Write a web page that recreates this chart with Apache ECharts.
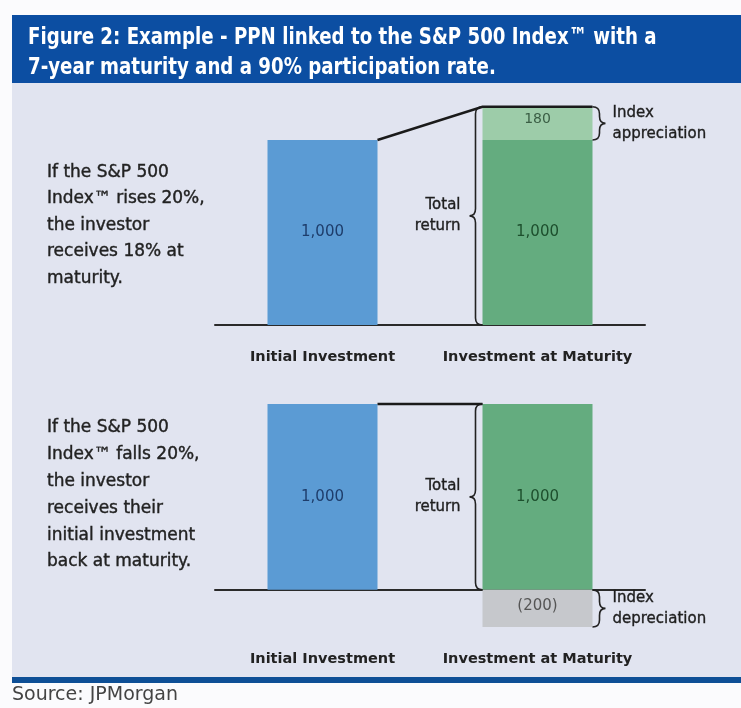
<!DOCTYPE html>
<html><head><meta charset="utf-8">
<script src="https://cdn.jsdelivr.net/npm/echarts@6/dist/echarts.min.js"></script>
<style>html,body{margin:0;padding:0;background:#fff}#c{width:741px;height:708px}</style>
</head><body><div id="c"></div><script>
// ---- data ----
const categories = ['Initial Investment', 'Investment at Maturity'];
const principalUp = [1000, 1000];
const appreciationUp = [null, 180];
const principalDown = [1000, 1000];
const depreciationDown = [null, -200];
const titleLines = ['Figure 2: Example - PPN linked to the S&P 500 Index\u2122 with a', '7-year maturity and a 90% participation rate.'];
const upText = ['If the S&P 500', 'Index\u2122 rises 20%,', 'the investor', 'receives 18% at', 'maturity.'];
const downText = ['If the S&P 500', 'Index\u2122 falls 20%,', 'the investor', 'receives their', 'initial investment', 'back at maturity.'];
const braceTexts = { total: 'Total\nreturn', up: 'Index\nappreciation', down: 'Index\ndepreciation' };
const sourceText = 'Source: JPMorgan';

// ---- styles ----
const BLUE = '#5b9bd4', GREEN = '#64ac7f', LIGHTGREEN = '#9dcca9', GREY = '#c6c8cc';
const BAR_W = 110;
const FONT = 'DejaVu Sans';
const fmt = v => v < 0 ? '(' + Math.abs(v).toLocaleString('en-US') + ')' : v.toLocaleString('en-US');

function baseData(vals) {
  return vals.map((v, i) => ({
    value: v,
    itemStyle: { color: i === 0 ? BLUE : GREEN },
    label: { color: i === 0 ? '#1e3d6b' : '#1d4f2d' }
  }));
}

function bracePath(edge, y0, y1, dir) {
  const w = 7, t = 6;
  const r = Math.min(7, (y1 - y0) / 4);
  const xv = edge + dir * w, xt = xv + dir * t, ym = (y0 + y1) / 2;
  return 'M' + edge + ' ' + y0 + ' Q' + xv + ' ' + y0 + ' ' + xv + ' ' + (y0 + r) +
    ' L' + xv + ' ' + (ym - r) + ' Q' + xv + ' ' + ym + ' ' + xt + ' ' + ym +
    ' Q' + xv + ' ' + ym + ' ' + xv + ' ' + (ym + r) +
    ' L' + xv + ' ' + (y1 - r) + ' Q' + xv + ' ' + y1 + ' ' + edge + ' ' + y1;
}

function braceSeries(gi, cat, v0, v1, dir, text) {
  return {
    type: 'custom', xAxisIndex: gi, yAxisIndex: gi, clip: false, z: 5,
    encode: { x: 0, y: [1, 2] },
    data: [[cat, v0, v1]],
    renderItem: function (params, api) {
      const a = api.coord([api.value(0), api.value(1)]);
      const b = api.coord([api.value(0), api.value(2)]);
      const edge = a[0] + dir * BAR_W / 2;
      const y0 = Math.min(a[1], b[1]), y1 = Math.max(a[1], b[1]);
      const ym = (y0 + y1) / 2;
      return {
        type: 'group',
        children: [
          { type: 'path', shape: { pathData: bracePath(edge, y0, y1, dir) },
            style: { stroke: '#222', lineWidth: 1.6, fill: null } },
          { type: 'text', style: {
              text: text, x: dir < 0 ? edge - 22 : edge + 20, y: ym,
              align: dir < 0 ? 'right' : 'left', verticalAlign: 'middle',
              font: '15px "' + FONT + '"', fill: '#1e1e1e', stroke: '#1e1e1e', lineWidth: 0.35, lineHeight: 21 } }
        ]
      };
    }
  };
}

function connectorSeries(gi, v0, v1, extend) {
  return {
    type: 'custom', xAxisIndex: gi, yAxisIndex: gi, clip: false, z: 6,
    encode: { x: [0, 2], y: [1, 3] },
    data: [[0, v0, 1, v1]],
    renderItem: function (params, api) {
      const p0 = api.coord([api.value(0), api.value(1)]);
      const p1 = api.coord([api.value(2), api.value(3)]);
      const h = BAR_W / 2;
      const pts = [[p0[0] + h, p0[1]], [p1[0] - h, p1[1]]];
      if (extend) pts.push([p1[0] + h, p1[1]]);
      return { type: 'polyline', shape: { points: pts }, style: { stroke: '#1a1a1a', lineWidth: 2.5, fill: null } };
    }
  };
}

const labelBase = { show: true, position: 'inside', fontFamily: FONT, fontSize: 15, formatter: p => fmt(p.value) };

function xAxis(gi) {
  return {
    type: 'category', gridIndex: gi, data: categories,
    axisLine: { onZero: true, lineStyle: { color: '#2a2a2a', width: 2 } },
    axisTick: { show: false },
    axisLabel: { interval: 0, margin: 24.5, fontFamily: FONT, fontSize: 14.5, fontWeight: 'bold', color: '#222' }
  };
}
function yAxis(gi, min, max) {
  return { type: 'value', gridIndex: gi, min: min, max: max, show: false, splitLine: { show: false } };
}

const chart = echarts.init(document.getElementById('c'), null, { renderer: 'canvas' });
const upSum = principalUp[1] + appreciationUp[1];
const paraStyle = { fill: '#222', stroke: '#222', lineWidth: 0.4, font: '17px "' + FONT + '"', verticalAlign: 'top' };
chart.setOption({
  animation: false,
  backgroundColor: '#fbfbfd',
  graphic: [
    { type: 'rect', shape: { x: 12, y: 83, width: 729, height: 594 }, style: { fill: '#e1e4f0' }, z: -10 },
    { type: 'rect', shape: { x: 12, y: 15, width: 729, height: 68 }, style: { fill: '#0c4ea2' }, z: -9 },
    { type: 'rect', shape: { x: 12, y: 677, width: 729, height: 6 }, style: { fill: '#0e4f96' }, z: -9 },
    { type: 'text', z: 1, x: 28, y: 23, scaleX: 0.88, style: { text: titleLines.join('\n'), x: 0, y: 0, fill: '#ffffff',
        font: 'bold 23px "DejaVu Sans Condensed", sans-serif', lineHeight: 30, verticalAlign: 'top' } },
    { type: 'text', z: 1, style: Object.assign({ text: upText.join('\n'), x: 47, y: 159, lineHeight: 26.5 }, paraStyle) },
    { type: 'text', z: 1, style: Object.assign({ text: downText.join('\n'), x: 47, y: 414.5, lineHeight: 26.8 }, paraStyle) },
    { type: 'text', z: 1, style: { text: sourceText, x: 12, y: 695, fill: '#444',
        font: '19px "' + FONT + '"', verticalAlign: 'middle' } }
  ],
  grid: [
    { left: 215, width: 430, top: 103, height: 222 },
    { left: 215, width: 430, top: 404, height: 223 }
  ],
  xAxis: [xAxis(0), xAxis(1)],
  yAxis: [yAxis(0, 0, 1200), yAxis(1, -200, 1000)],
  series: [
    { type: 'bar', xAxisIndex: 0, yAxisIndex: 0, stack: 'up', barWidth: BAR_W, data: baseData(principalUp), label: labelBase },
    { type: 'bar', xAxisIndex: 0, yAxisIndex: 0, stack: 'up', barWidth: BAR_W, data: appreciationUp,
      itemStyle: { color: LIGHTGREEN }, label: Object.assign({}, labelBase, { fontSize: 14, color: '#3b5e45', offset: [0, -4] }) },
    { type: 'bar', xAxisIndex: 1, yAxisIndex: 1, stack: 'down', barWidth: BAR_W, data: baseData(principalDown), label: labelBase },
    { type: 'bar', xAxisIndex: 1, yAxisIndex: 1, stack: 'down', barWidth: BAR_W, data: depreciationDown,
      itemStyle: { color: GREY }, label: Object.assign({}, labelBase, { fontSize: 15, color: '#555', offset: [0, -2] }) },
    connectorSeries(0, principalUp[0], upSum, true),
    connectorSeries(1, principalDown[0], principalDown[1], false),
    braceSeries(0, 1, 0, upSum, -1, braceTexts.total),
    braceSeries(0, 1, principalUp[1], upSum, 1, braceTexts.up),
    braceSeries(1, 1, 0, principalDown[1], -1, braceTexts.total),
    braceSeries(1, 1, depreciationDown[1], 0, 1, braceTexts.down)
  ]
});
</script></body></html>
